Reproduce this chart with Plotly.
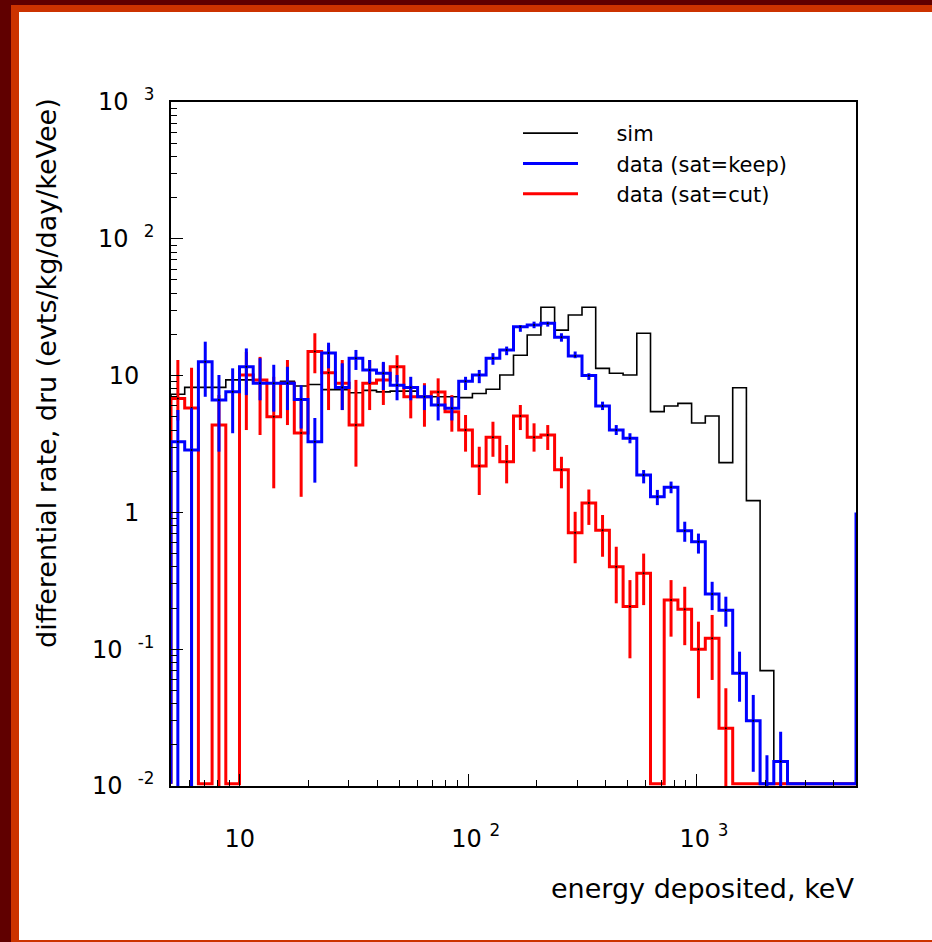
import numpy as np
import plotly.graph_objects as go

# ---------------- data ----------------
E_LOW, E_HIGH, N_BINS = 5.0, 5000.0, 50      # log-uniform energy bins, keV
Y_LOW, Y_HIGH = 0.01, 1000.0                 # dru axis range

sim_rate = [7.3, 8.2, 8.2, 8.2, 9.3, 9.3, 8.8, 8.8, 9.1, 8.4,
            8.6, 7.9, 7.9, 7.5, 7.8, 7.6, 7.7, 7.7, 7.0, 7.0,
            7.0, 6.9, 7.4, 7.95, 10.1, 14.1, 19.8, 31.6, 21.5, 27.7,
            31.6, 11.3, 10.4, 10.1, 20.4, 5.45, 6.0, 6.27, 4.5, 5.07,
            2.31, 8.15, 1.22, 0.0697, 0, 0, 0, 0, 0, 0]

keep_rate = [3.29, 2.86, 12.6, 6.63, 7.63, 11.6, 8.8, 8.8, 8.8, 6.7,
             3.29, 14.6, 8.2, 13.4, 11.0, 10.4, 8.5, 8.2, 7.0, 6.1,
             5.77, 9.1, 10.1, 13.4, 15.4, 22.8, 23.4, 24.1, 19.05, 13.9,
             10.0, 6.0, 4.0, 3.48, 1.88, 1.30, 1.53, 0.735, 0.61, 0.253,
             0.193, 0.0667, 0.030, 0.008, 0.0151, 0, 0, 0, 0, 0]
keep_upper = [5.6, 5.77, 17.7, 10.1, 11.3, 15.8, 13.4, 12.0, 11.6, 8.5,
              4.9, 17.4, 12.3, 15.4, 13.0, 12.6, 10.1, 9.8, 8.5, 7.0,
              7.0, 9.8, 11.0, 14.6, 16.3, 23.4, 24.8, 24.8, 20.4, 15.0,
              10.4, 6.45, 4.35, 3.79, 2.04, 1.46, 1.68, 0.855, 0.70, 0.311,
              0.242, 0.0959, 0.0463, 0.0168, 0.0249, 0, 0, 0, 0, 0]
keep_lower = [0, 0, 7.0, 2.78, 3.79, 7.2, 6.6, 5.45, 5.6, 4.1,
              1.65, 11.3, 5.6, 11.0, 8.8, 7.85, 6.6, 6.6, 5.6, 4.7,
              4.7, 7.85, 8.8, 12.0, 14.1, 20.9, 22.2, 22.8, 17.7, 13.4,
              9.3, 5.6, 3.68, 3.2, 1.63, 1.13, 1.38, 0.61, 0.50, 0.193,
              0.146, 0.0413, 0.0127, 0, 0, 0, 0, 0, 0, 0]
keep_overflow = 1.0

cut_rate = [6.8, 5.8, 0, 4.35, 0, 10.1, 9.3, 5.0, 8.8, 3.8,
            15.0, 10.5, 8.8, 4.35, 8.8, 9.3, 11.6, 7.0, 7.0, 7.6,
            5.45, 4.0, 2.18, 3.54, 2.35, 5.07, 3.54, 3.68, 2.05, 0.71,
            1.17, 0.74, 0.40, 0.205, 0.359, 0, 0.229, 0.196, 0.100, 0.120,
            0.0264, 0, 0, 0, 0, 0, 0, 0, 0, 0]
cut_upper = [13.0, 11.4, 0, 7.2, 0, 14.9, 13.7, 9.8, 13.0, 6.6,
             20.4, 16.7, 13.0, 9.3, 13.0, 12.4, 14.1, 8.5, 8.8, 9.55,
             7.2, 5.15, 3.02, 4.6, 3.11, 6.1, 4.48, 4.35, 2.55, 1.01,
             1.47, 0.957, 0.561, 0.32, 0.50, 0, 0.32, 0.286, 0.159, 0.178,
             0.0518, 0, 0, 0, 0, 0, 0, 0, 0, 0]
cut_lower = [4.7, 0, 0, 0, 0, 4.0, 3.68, 1.5, 4.35, 1.3,
             10.4, 5.6, 5.6, 2.16, 5.6, 6.1, 9.0, 4.87, 4.23, 5.93,
             3.89, 2.78, 1.34, 2.55, 1.63, 4.0, 2.78, 2.86, 1.5, 0.425,
             0.81, 0.474, 0.2165, 0.0858, 0.21, 0, 0.1235, 0.107, 0.0438, 0.0596,
             0, 0, 0, 0, 0, 0, 0, 0, 0, 0]

legend_names = ["sim", "data (sat=keep)", "data (sat=cut)"]

x_tick_values = [10, 100, 1000]
x_tick_labels = ["10",
                 "\u00a0\u00a010\u00a0<sup>2</sup>",
                 "\u00a0\u00a010\u00a0<sup>3</sup>"]
y_tick_values = [0.01, 0.1, 1, 10, 100, 1000]
y_tick_labels = ["10\u00a0\u00a0<sup>-2</sup>", "10\u00a0\u00a0<sup>-1</sup>",
                 "1\u00a0\u00a0", "10\u00a0\u00a0",
                 "10\u00a0\u00a0<sup>2</sup>", "10\u00a0\u00a0<sup>3</sup>"]

x_title = "energy deposited, keV"
y_title = "differential rate, dru (evts/kg/day/keVee)"

# ---------------- layout constants ----------------
W, H = 932, 942
ML, MR, MT, MB = 171, 76, 102, 156
PW, PH = W - ML - MR, H - MT - MB
FONT = "DejaVu Sans"
BLUE, RED = "#0000ff", "#ff0000"
FLOOR = Y_LOW * 1.04          # empty bins drawn on the frame bottom (ROOT style)
LEG_PAD = "\u00a0" * 5        # gap between legend line sample and its text


def px_x(p):
    return (p - ML) / PW


def px_y(p):
    return (H - MB - p) / PH


edges = np.logspace(np.log10(E_LOW), np.log10(E_HIGH), N_BINS + 1)
centers = np.sqrt(edges[:-1] * edges[1:])


def step_xy(values, end_value=None):
    ys = [max(v, FLOOR) for v in values]
    x = [edges[0]] + list(edges[:-1]) + [edges[-1]]
    y = [FLOOR] + ys + [end_value if end_value else FLOOR]
    return x, y


def error_trace(values, upper, lower, color):
    idx = [i for i, v in enumerate(values) if v > 0]
    return go.Scatter(
        x=centers[idx], y=[values[i] for i in idx], mode="markers",
        marker=dict(size=2, color="black"),
        error_y=dict(type="data", symmetric=False,
                     array=[upper[i] - values[i] for i in idx],
                     arrayminus=[values[i] - lower[i] for i in idx],
                     color=color, thickness=3, width=0),
        showlegend=False, hoverinfo="skip")


fig = go.Figure()

sx, sy = step_xy(sim_rate)
fig.add_trace(go.Scatter(x=sx, y=sy, mode="lines", line_shape="hv",
                         line=dict(color="black", width=1.6),
                         name=LEG_PAD + legend_names[0], legendrank=1))

cx, cy = step_xy(cut_rate)
fig.add_trace(go.Scatter(x=cx, y=cy, mode="lines", line_shape="hv",
                         line=dict(color=RED, width=3),
                         name=LEG_PAD + legend_names[2], legendrank=3))
fig.add_trace(error_trace(cut_rate, cut_upper, cut_lower, RED))

kx, ky = step_xy(keep_rate, keep_overflow)
fig.add_trace(go.Scatter(x=kx, y=ky, mode="lines", line_shape="hv",
                         line=dict(color=BLUE, width=3),
                         name=LEG_PAD + legend_names[1], legendrank=2))
fig.add_trace(error_trace(keep_rate, keep_upper, keep_lower, BLUE))

x_minor = [m * 10 ** d for d in range(0, 4) for m in range(2, 10)
           if E_LOW < m * 10 ** d < E_HIGH]
y_minor = [m * 10 ** d for d in range(-2, 3) for m in range(2, 10)]

axis_common = dict(type="log", showgrid=False, zeroline=False,
                   showline=True, linecolor="black", linewidth=1.5, mirror=True,
                   ticks="inside", ticklen=12, tickwidth=1.3, tickcolor="black",
                   tickfont=dict(family=FONT, size=24, color="black"))

fig.update_xaxes(range=[np.log10(E_LOW), np.log10(E_HIGH)],
                 tickmode="array", tickvals=x_tick_values, ticktext=x_tick_labels,
                 ticklabelstandoff=30,
                 minor=dict(tickvals=x_minor, ticks="inside", ticklen=6,
                            tickwidth=1.2, tickcolor="black"),
                 **axis_common)
fig.update_yaxes(range=[np.log10(Y_LOW), np.log10(Y_HIGH)],
                 tickmode="array", tickvals=y_tick_values, ticktext=y_tick_labels,
                 ticklabelstandoff=10,
                 minor=dict(tickvals=y_minor, ticks="inside", ticklen=6,
                            tickwidth=1.2, tickcolor="black"),
                 **axis_common)

DARK, ORANGE = "#600000", "#cc3300"
frame_rects = [
    (-3, -3, W + 3, 5, DARK),
    (-3, -3, 11, H + 3, DARK),
    (11, 5, W + 3, 12, ORANGE),
    (11, 5, 19, H + 3, ORANGE),
    (11, 940, W + 3, H + 3, ORANGE),
]
shapes = [dict(type="rect", xref="paper", yref="paper",
               x0=px_x(a), x1=px_x(c), y0=px_y(d), y1=px_y(b),
               fillcolor=col, line=dict(width=0), layer="above")
          for a, b, c, d, col in frame_rects]

fig.update_layout(
    width=W, height=H,
    margin=dict(l=ML, r=MR, t=MT, b=MB, pad=0),
    paper_bgcolor="white", plot_bgcolor="white",
    font=dict(family=FONT, color="black"),
    shapes=shapes,
    showlegend=True,
    legend=dict(x=px_x(518), y=px_y(113), xanchor="left", yanchor="top",
                bgcolor="rgba(0,0,0,0)", borderwidth=0, itemwidth=55,
                font=dict(family=FONT, size=21, color="black"),
                tracegroupgap=0),
    annotations=[
        dict(text=y_title, textangle=-90, x=px_x(46), y=px_y(373),
             xref="paper", yref="paper", xanchor="center", yanchor="middle",
             showarrow=False, font=dict(family=FONT, size=27, color="black")),
        dict(text=x_title, x=px_x(856), y=px_y(888),
             xref="paper", yref="paper", xanchor="right", yanchor="middle",
             showarrow=False, font=dict(family=FONT, size=27, color="black")),
    ],
)

fig.write_html("out.html")
